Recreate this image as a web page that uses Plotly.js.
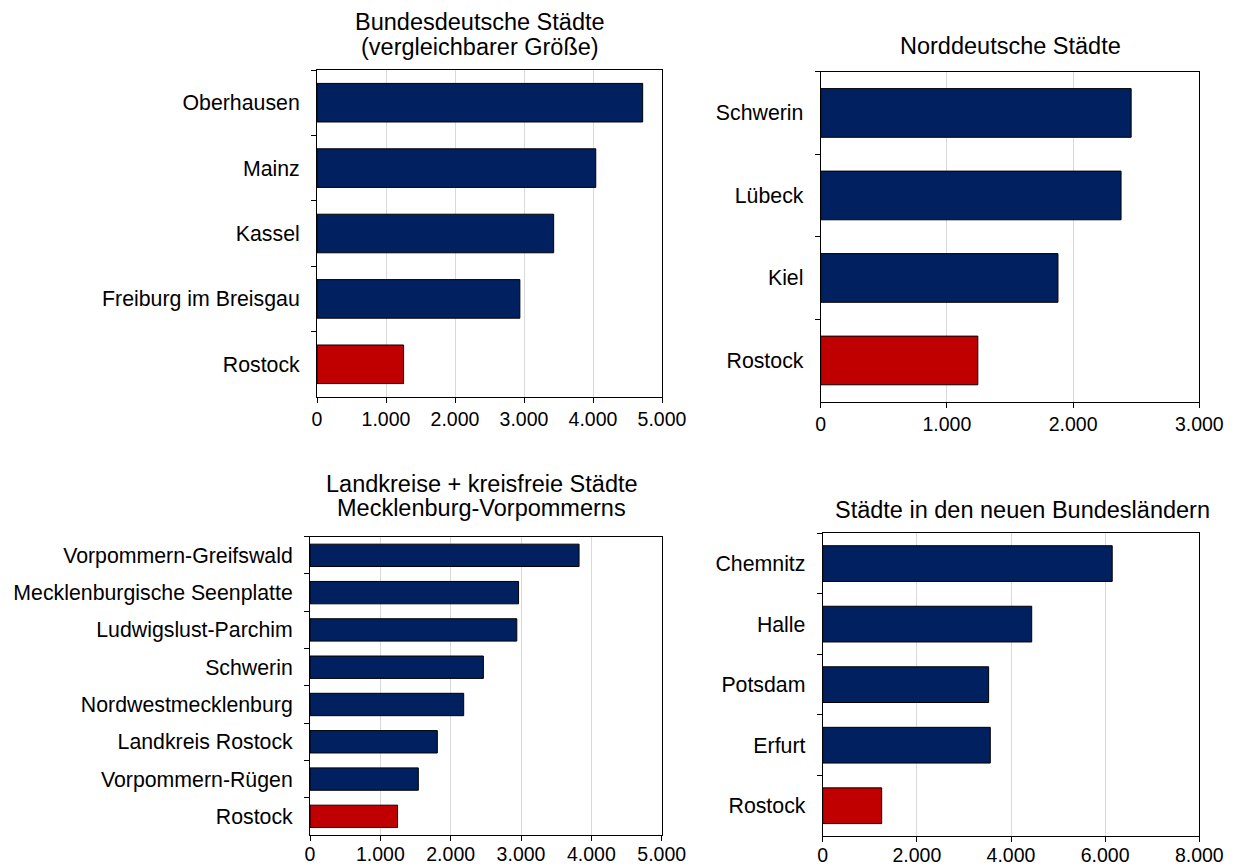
<!DOCTYPE html>
<html><head><meta charset="utf-8">
<script src="https://cdn.plot.ly/plotly-3.0.1.min.js"></script>
<style>body{margin:0;background:#fff}</style>
</head><body>
<div id="chart" style="width:1236px;height:868px"></div>
<script>
const NAVY = '#002060', RED = '#c00000';

const cat1 = ['Oberhausen','Mainz','Kassel','Freiburg im Breisgau','Rostock'];
const val1 = [4720, 4040, 3430, 2940, 1255];

const cat2 = ['Schwerin','Lübeck','Kiel','Rostock'];
const val2 = [2460, 2380, 1880, 1245];

const cat3 = ['Vorpommern-Greifswald','Mecklenburgische Seenplatte','Ludwigslust-Parchim','Schwerin','Nordwestmecklenburg','Landkreis Rostock','Vorpommern-Rügen','Rostock'];
const val3 = [3825, 2965, 2940, 2465, 2185, 1810, 1540, 1245];

const cat4 = ['Chemnitz','Halle','Potsdam','Erfurt','Rostock'];
const val4 = [6150, 4440, 3525, 3560, 1253];

const titles = [
  ['Bundesdeutsche Städte','(vergleichbarer Größe)'],
  ['Norddeutsche Städte'],
  ['Landkreise + kreisfreie Städte','Mecklenburg-Vorpommerns'],
  ['Städte in den neuen Bundesländern']
];
const xmax = [5000, 3000, 5000, 8000];
const xdtick = [1000, 1000, 1000, 2000];

const W = 1236, H = 868;
const boxes = [
  {l:317, r:662, t:70, b:397},
  {l:820.7, r:1199.3, t:71.7, b:401.7},
  {l:310, r:661.7, t:536.7, b:835},
  {l:822.7, r:1199.3, t:533.3, b:836}
];
const xStandoff = [0, 0, -3, -3];
const titlePos = [
  {x:480, y:[22, 47]},
  {x:1010, y:[46]},
  {x:482, y:[484, 508]},
  {x:1022, y:[510]}
];

const cats = [cat1, cat2, cat3, cat4];
const vals = [val1, val2, val3, val4];
const fam = '"Liberation Sans", Arial, sans-serif';
const font = {family:fam, size:21.3, color:'#000'};
const xfont = {family:fam, size:19.5, color:'#000'};
const tfont = {family:fam, size:23.5, color:'#000'};

const data = [];
const layout = {
  width: W, height: H, autosize:false,
  margin:{l:0,r:0,t:0,b:0},
  paper_bgcolor:'#fff', plot_bgcolor:'#fff',
  showlegend:false, separators:',.',
  font: font,
  annotations: []
};

for (let i = 0; i < 4; i++) {
  const s = i === 0 ? '' : String(i + 1);
  data.push({
    type:'bar', orientation:'h',
    y: cats[i], x: vals[i],
    xaxis:'x' + s, yaxis:'y' + s,
    marker:{color: cats[i].map(c => c === 'Rostock' ? RED : NAVY), line:{color:'#000', width:1}},
    width: i === 2 ? 0.6 : 0.59,
    hoverinfo:'x+y'
  });
  const b = boxes[i];
  layout['xaxis' + s] = {
    domain:[b.l / W, b.r / W], anchor:'y' + s,
    range:[0, xmax[i]], dtick: xdtick[i], tick0:0, tickformat:',d',
    showgrid:true, gridcolor:'#d9d9d9', gridwidth:1, zeroline:false,
    showline:true, linecolor:'#000', linewidth:1, mirror:true,
    ticks:'outside', ticklen:5, tickcolor:'#000',
    ticklabelstandoff: xStandoff[i],
    tickfont:xfont, automargin:false, fixedrange:true
  };
  layout['yaxis' + s] = {
    domain:[1 - b.b / H, 1 - b.t / H], anchor:'x' + s,
    type:'category', autorange:'reversed',
    showgrid:false, zeroline:false,
    showline:true, linecolor:'#000', linewidth:1, mirror:true,
    ticks:'outside', ticklen:5, tickcolor:'#000', tickson:'boundaries',
    ticklabelstandoff: 12,
    tickfont:font, automargin:false, fixedrange:true
  };
  titles[i].forEach((t, k) => {
    layout.annotations.push({
      text: t, xref:'paper', yref:'paper',
      x: titlePos[i].x / W, y: 1 - titlePos[i].y[k] / H,
      xanchor:'center', yanchor:'middle', showarrow:false,
      font: tfont, align:'center'
    });
  });
}

Plotly.newPlot('chart', data, layout, {displayModeBar:false, staticPlot:true});
</script>
</body></html>
